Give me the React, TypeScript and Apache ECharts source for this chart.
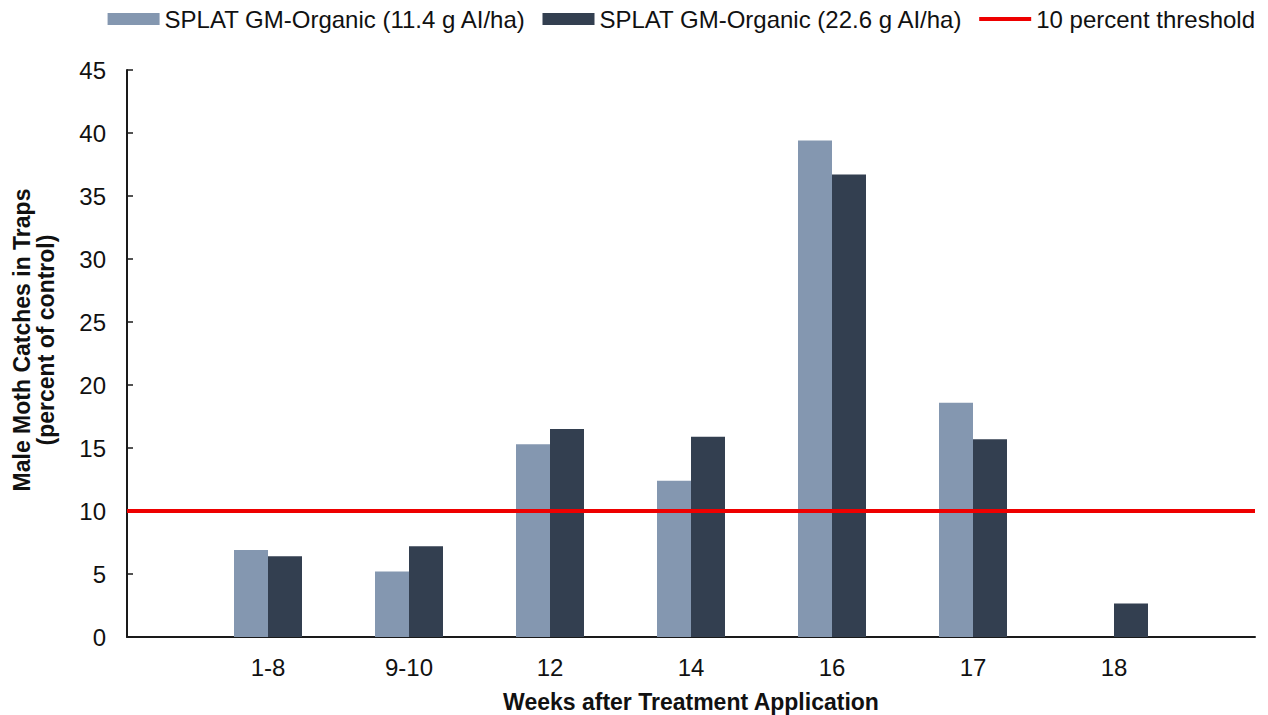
import React, { useEffect, useRef } from "react";
import * as echarts from "echarts";

const categories = ["", "1-8", "9-10", "12", "14", "16", "17", "18", ""];
const lowDose = [null, 6.9, 5.2, 15.3, 12.4, 39.4, 18.6, null, null];
const highDose = [null, 6.4, 7.2, 16.5, 15.9, 36.7, 15.7, 2.65, null];
const threshold = [10, 10, 10, 10, 10, 10, 10, 10, 10];
const seriesNames = [
  "SPLAT GM-Organic (11.4 g AI/ha)",
  "SPLAT GM-Organic (22.6 g AI/ha)",
  "10 percent threshold",
];
const yTicks = { min: 0, max: 45, interval: 5 };
const xTitle = "Weeks after Treatment Application";
const yTitle = "Male Moth Catches in Traps\n(percent of control)";

const FONT = "'Liberation Sans', Arial, sans-serif";
const RED = "#EE0000";

export default function App() {
  const ref = useRef<HTMLDivElement>(null);
  useEffect(() => {
    if (!ref.current) return;
    const chart = echarts.init(ref.current, null, { renderer: "svg" });
    chart.setOption({
      animation: false,
      textStyle: { fontFamily: FONT },
      grid: {
        left: 127,
        right: 13,
        top: 70,
        bottom: 78,
        containLabel: false,
        outerBoundsMode: "none",
      },
      graphic: [
        {
          type: "text",
          x: 34,
          y: 340,
          rotation: Math.PI / 2,
          style: {
            text: yTitle,
            textAlign: "center",
            textVerticalAlign: "middle",
            fontSize: 23,
            fontWeight: "bold",
            fontFamily: FONT,
            lineHeight: 24,
            fill: "#111",
          },
        },
      ],
      legend: {
        right: 8,
        top: 2,
        itemWidth: 52,
        itemHeight: 12,
        itemGap: 16,
        textStyle: { fontSize: 24, color: "#111", fontFamily: FONT },
        data: [
          { name: seriesNames[0], icon: "rect" },
          { name: seriesNames[1], icon: "rect" },
          {
            name: seriesNames[2],
            icon: "path://M0 0H52V4H0Z",
            itemStyle: { color: RED, borderWidth: 0 },
          },
        ],
      },
      xAxis: {
        type: "category",
        data: categories,
        boundaryGap: false,
        axisLine: { lineStyle: { color: "#1a1a1a", width: 2 } },
        axisTick: { show: false },
        axisLabel: { fontSize: 24, color: "#111", margin: 18, fontFamily: FONT, interval: 0 },
        name: xTitle,
        nameLocation: "middle",
        nameGap: 53,
        nameTextStyle: { fontSize: 23, fontWeight: "bold", color: "#111", fontFamily: FONT },
      },
      yAxis: {
        type: "value",
        min: yTicks.min,
        max: yTicks.max,
        interval: yTicks.interval,
        splitLine: { show: false },
        axisLine: { show: true, lineStyle: { color: "#1a1a1a", width: 2 } },
        axisTick: { show: true, inside: true, length: 6, lineStyle: { color: "#1a1a1a", width: 1.5 } },
        axisLabel: { fontSize: 24, color: "#111", margin: 21, fontFamily: FONT },
      },
      series: [
        {
          name: seriesNames[0],
          type: "bar",
          data: lowDose,
          barWidth: 34,
          barGap: "0%",
          itemStyle: { color: "#8497B0" },
        },
        {
          name: seriesNames[1],
          type: "bar",
          data: highDose,
          barWidth: 34,
          barGap: "0%",
          itemStyle: { color: "#333F50" },
        },
        {
          name: seriesNames[2],
          type: "line",
          data: threshold,
          symbol: "none",
          showSymbol: false,
          lineStyle: { color: RED, width: 4 },
          itemStyle: { color: RED },
          z: 5,
        },
      ],
    });
    return () => chart.dispose();
  }, []);
  return (
    <div
      ref={ref}
      style={{ position: "fixed", left: 0, top: 0, width: 1268, height: 715, background: "#fff" }}
    />
  );
}
